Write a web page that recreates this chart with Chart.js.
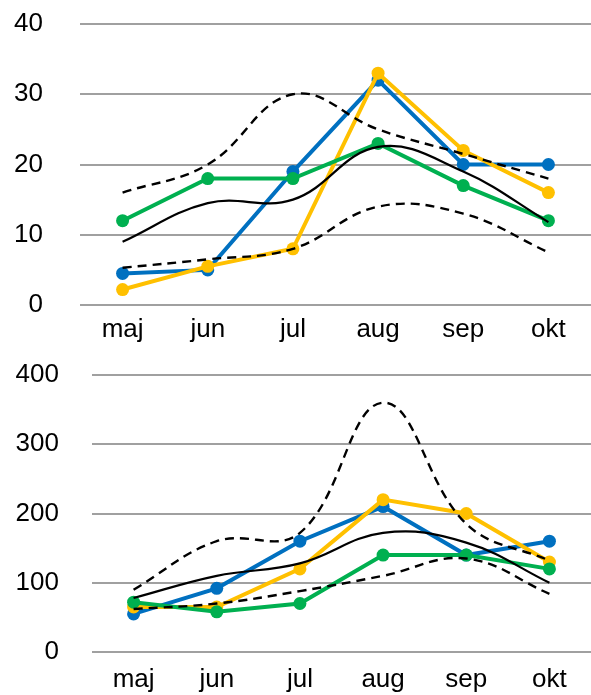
<!DOCTYPE html>
<html>
<head>
<meta charset="utf-8">
<script src="https://cdn.jsdelivr.net/npm/chart.js@4"></script>
<style>
  html, body { margin: 0; padding: 0; background: #fff; }
  .box { position: absolute; left: 0; width: 591px; }
  #top { top: 0; height: 347px; }
  #bottom { top: 347px; height: 348px; }
</style>
</head>
<body>
<div class="box" id="top"><canvas id="chartTop"></canvas></div>
<div class="box" id="bottom"><canvas id="chartBottom"></canvas></div>
<script>
// categories
const months = ["maj", "jun", "jul", "aug", "sep", "okt"];

// top panel (0-40)
const topBlue = [4.5, 5, 19, 32, 20, 20];
const topYellow = [2.2, 5.5, 8, 33, 22, 16];
const topGreen = [12, 18, 18, 23, 17, 12];
const topMean = [9, 14.5, 15, 22.5, 19, 11.8];
const topUpper = [16, 20, 30, 25, 21.5, 18];
const topLower = [5.3, 6.5, 8, 14, 13, 7.5];
const topTicks = [0, 10, 20, 30, 40];

// bottom panel (0-400)
const botBlue = [55, 92, 160, 210, 140, 160];
const botYellow = [65, 65, 120, 220, 200, 130];
const botGreen = [72, 58, 70, 140, 140, 120];
const botMean = [78, 110, 128, 172, 158, 100];
const botUpper = [90, 160, 172, 360, 185, 132];
const botLower = [62, 70, 88, 110, 135, 84];
const botTicks = [0, 100, 200, 300, 400];

const FONT = "'Liberation Sans', Arial, sans-serif";

function coloured(data, color) {
    return {
        data: data,
        borderColor: color,
        backgroundColor: color,
        borderWidth: 4,
        pointRadius: 6.5,
        pointHoverRadius: 6.5,
        pointBorderWidth: 0,
        tension: 0
    };
}

function blackLine(data, dashed) {
    return {
        data: data,
        borderColor: "#000",
        borderWidth: dashed ? 2.4 : 2.2,
        borderDash: dashed ? [9, 6] : [],
        pointRadius: 0,
        tension: 0.4,
        fill: false
    };
}

// no automatic label padding, layout is set by hand
function noPad(s) {
    s.paddingTop = 0;
    s.paddingBottom = 0;
    s.paddingLeft = 0;
    s.paddingRight = 0;
}

function makeChart(id, series, ticks, axisWidth, labelPad, topPad, xHeight, xPad) {
    const maxVal = ticks[ticks.length - 1];
    const step = ticks[1] - ticks[0];
    return new Chart(document.getElementById(id), {
        type: "line",
        data: {
            labels: months,
            // first dataset is drawn on top
            datasets: [
                blackLine(series.upper, true),
                blackLine(series.lower, true),
                blackLine(series.mean, false),
                coloured(series.green, "#00B050"),
                coloured(series.yellow, "#FFC000"),
                coloured(series.blue, "#0070C0")
            ]
        },
        options: {
            responsive: true,
            maintainAspectRatio: false,
            animation: false,
            layout: { autoPadding: false, padding: { top: topPad, right: 0, bottom: 0, left: 0 } },
            plugins: { legend: { display: false }, tooltip: { enabled: false } },
            scales: {
                x: {
                    offset: true,
                    grid: { display: false, drawTicks: false },
                    border: { display: false },
                    afterFit: (s) => { noPad(s); s.height = xHeight; },
                    ticks: { color: "#000", padding: xPad, maxRotation: 0, font: { family: FONT, size: 26 } }
                },
                y: {
                    min: 0,
                    max: maxVal,
                    grid: { color: "#a0a0a0", lineWidth: 2, drawTicks: false },
                    border: { display: false },
                    afterBuildTicks: (s) => { s.ticks = ticks.map(v => ({ value: v })); },
                    afterFit: (s) => { noPad(s); s.width = axisWidth; },
                    ticks: { color: "#000", padding: labelPad, stepSize: step, font: { family: FONT, size: 26 } }
                }
            }
        }
    });
}

makeChart("chartTop", {
    blue: topBlue, yellow: topYellow, green: topGreen,
    mean: topMean, upper: topUpper, lower: topLower
}, topTicks, 80, 37, 24, 42, 9);

makeChart("chartBottom", {
    blue: botBlue, yellow: botYellow, green: botGreen,
    mean: botMean, upper: botUpper, lower: botLower
}, botTicks, 92, 33, 28, 43, 12);
</script>
</body>
</html>
